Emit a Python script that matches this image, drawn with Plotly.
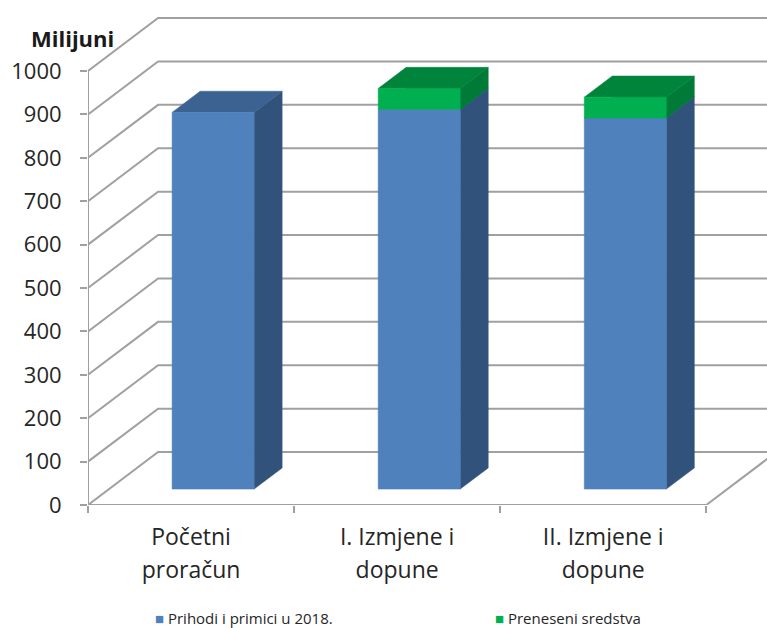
import plotly.graph_objects as go

categories = ["Početni<br>proračun", "I. Izmjene i<br>dopune", "II. Izmjene i<br>dopune"]
prihodi = [868, 875, 855]
preneseni = [0, 48, 48]
y_ticks = list(range(0, 1001, 100))
series_names = ["Prihodi i primici u 2018.", "Preneseni sredstva"]

GRID = "#a0a0a0"
TXT = "#262626"
FONT = "Open Sans, Noto Sans, sans-serif"
BLUE = ("#4f81bd", "#31537b", "#3c6291")
GREEN = ("#00b050", "#007a37", "#00843b")

# oblique projection in axis units
DX, DY = 0.34, 122.0
D0, D1 = 0.30, 0.70
HALF = 0.199
XMAX = (767 - 88.3) / 206


def proj(x, y, d):
    return x + d * DX, y + d * DY


def poly(points, color):
    xs, ys = zip(*points)
    return go.Scatter(x=list(xs) + [xs[0]], y=list(ys) + [ys[0]], mode="lines", fill="toself",
                      fillcolor=color, line=dict(color=color, width=0.5), hoverinfo="skip",
                      showlegend=False)


fig = go.Figure()

# walls and floor grid
gx, gy = [], []
for t in y_ticks:
    a, b = proj(0, t, 0), proj(0, t, 1)
    gx += [a[0], b[0], XMAX + 1, None]
    gy += [a[1], b[1], b[1], None]
a, b = proj(3, 0, 0), proj(3, 0, 1)
gx += [a[0], b[0], None]
gy += [a[1], b[1], None]
fig.add_trace(go.Scatter(x=gx, y=gy, mode="lines", line=dict(color=GRID, width=2),
                         hoverinfo="skip", showlegend=False))

# axis lines
fig.add_trace(go.Scatter(x=[0, 0, None, 0, 3], y=[0, y_ticks[-1], None, 0, 0], mode="lines",
                         line=dict(color=GRID, width=2), hoverinfo="skip", showlegend=False,
                         cliponaxis=False))

# bars
for i in range(len(categories)):
    cx = i + 0.505
    l, r = cx - HALF, cx + HALF
    bottom = 0
    stacks = [(prihodi[i], BLUE), (preneseni[i], GREEN)]
    for value, (front, side, top) in stacks:
        if value <= 0:
            continue
        t = bottom + value
        fig.add_trace(poly([proj(r, bottom, D0), proj(r, bottom, D1), proj(r, t, D1), proj(r, t, D0)], side))
        fig.add_trace(poly([proj(l, t, D0), proj(r, t, D0), proj(r, t, D1), proj(l, t, D1)], top))
        fig.add_trace(poly([proj(l, bottom, D0), proj(r, bottom, D0), proj(r, t, D0), proj(l, t, D0)], front))
        bottom = t

labels = ["<br>".join(f'<span style="font-size:23px">{p}</span>' for p in c.split("<br>")) for c in categories]

pw, ph = 767 - 88.3, 505
fig.update_layout(
    width=767, height=628, autosize=False,
    margin=dict(l=88.3, r=0, t=0, b=123),
    paper_bgcolor="white", plot_bgcolor="white",
    showlegend=False,
    font=dict(family=FONT, color=TXT),
    xaxis=dict(range=[0, XMAX], showgrid=False, zeroline=False, showline=False,
               tickmode="array", tickvals=[0.5, 1.5, 2.5], ticktext=labels, ticks="",
               tickfont=dict(size=25, color=TXT, family=FONT), tickangle=0,
               ticklabelstandoff=14,
               minor=dict(tickmode="array", tickvals=[0, 1, 2, 3], ticks="outside", ticklen=7,
                          tickwidth=2, tickcolor=GRID, showgrid=False)),
    yaxis=dict(range=[0, 505 / 0.434], showgrid=False, zeroline=False, showline=False,
               tickmode="array", tickvals=y_ticks, ticks="outside", ticklen=7, tickwidth=2,
               tickcolor=GRID, tickfont=dict(size=22, color=TXT, family=FONT),
               ticklabelstandoff=14),
    annotations=[
        dict(text="<b>Milijuni</b>", xref="paper", yref="paper", x=(29 - 88.3) / pw, y=(505 - 38) / ph,
             xanchor="left", yanchor="middle", showarrow=False, font=dict(size=22, color="#1a1a1a")),
        dict(text=f'<span style="color:{BLUE[0]}">■</span> {series_names[0]}', xref="paper", yref="paper",
             x=(154 - 88.3) / pw, y=(505 - 618) / ph, xanchor="left", yanchor="middle", showarrow=False,
             font=dict(size=15, color=TXT), borderpad=0),
        dict(text=f'<span style="color:{GREEN[0]}">■</span> {series_names[1]}', xref="paper", yref="paper",
             x=(494 - 88.3) / pw, y=(505 - 618) / ph, xanchor="left", yanchor="middle", showarrow=False,
             font=dict(size=15, color=TXT), borderpad=0),
    ],
)

fig.write_html("out.html", config=dict(displayModeBar=False),
               post_script="document.body.style.margin='0';")
